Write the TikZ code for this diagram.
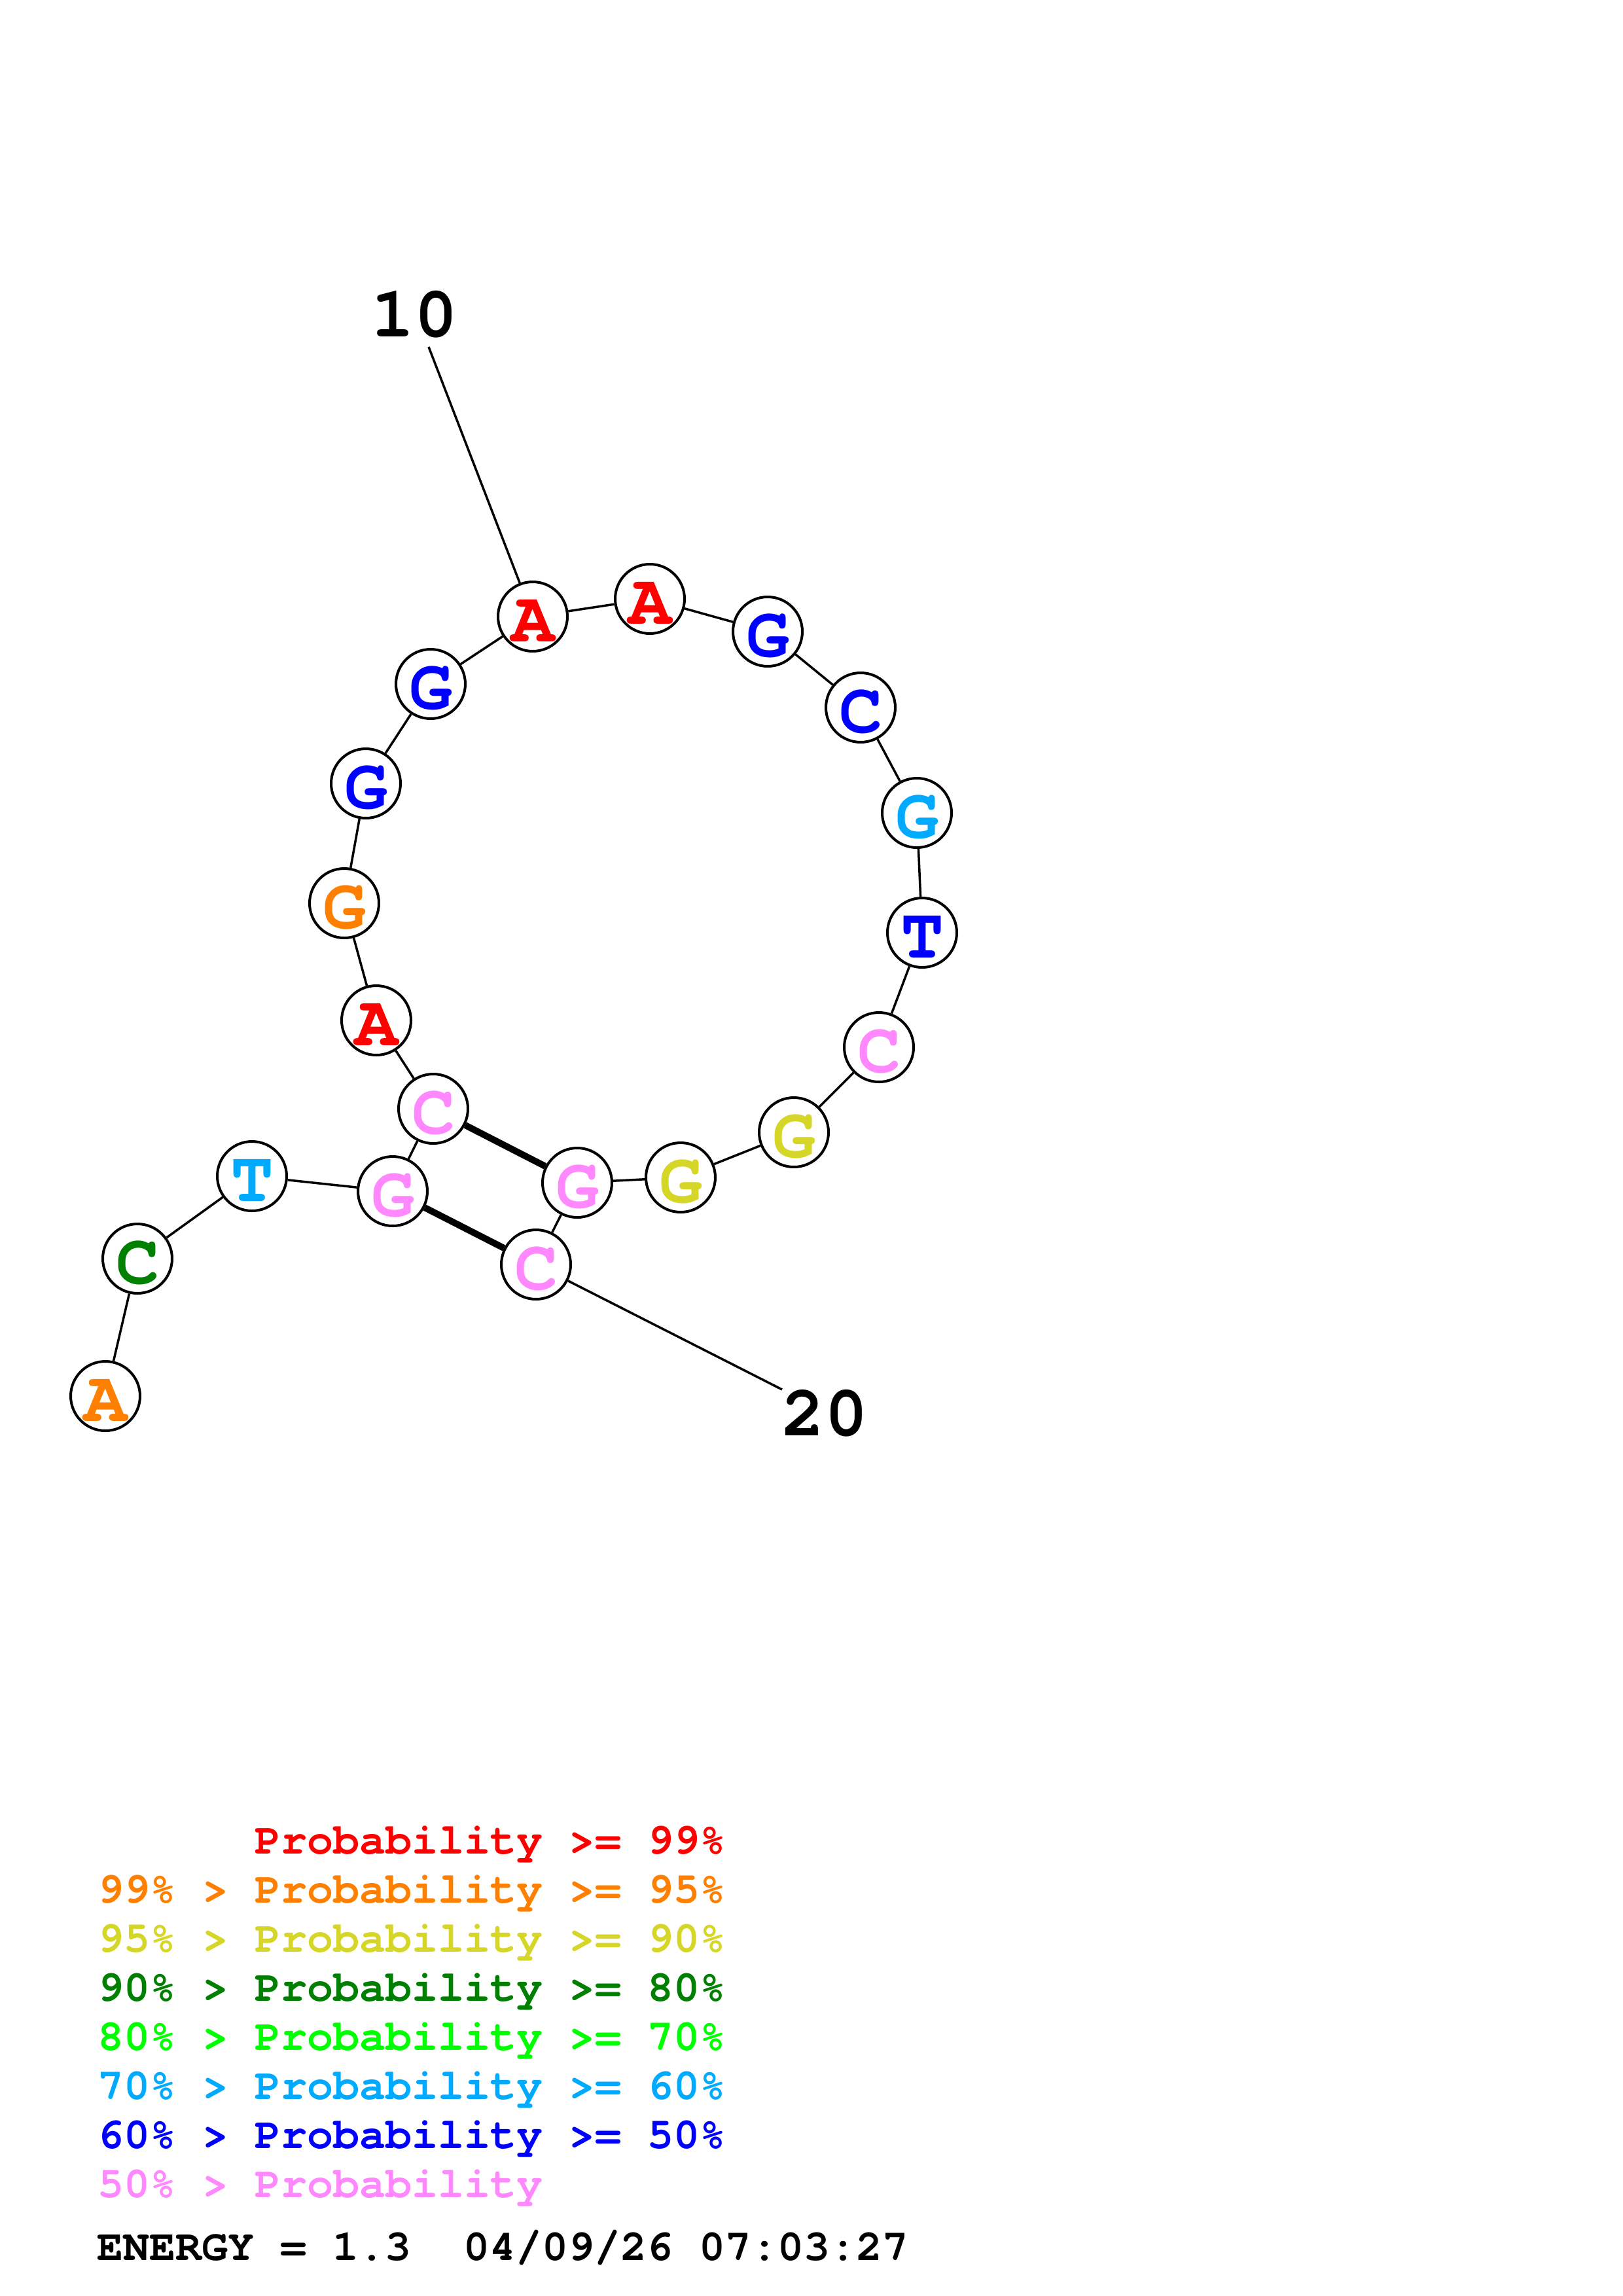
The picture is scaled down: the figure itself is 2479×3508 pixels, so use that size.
\documentclass[tikz,border=0pt]{standalone}
\usepackage{fontspec}
\newfontfamily\cour{TeX Gyre Cursor}
\definecolor{pr}{RGB}{255,0,0}
\definecolor{po}{RGB}{255,128,0}
\definecolor{py}{RGB}{214,214,41}
\definecolor{pdg}{RGB}{0,128,0}
\definecolor{pg}{RGB}{0,255,0}
\definecolor{plb}{RGB}{0,170,255}
\definecolor{pb}{RGB}{0,0,255}
\definecolor{pp}{RGB}{255,136,255}
\newcommand\nt[5]{\node[nuc] (#1) at (#2,#3) {}; \node[base,text=#5] at ([yshift=-6pt]#1) {#4};}
\begin{document}
\begin{tikzpicture}[x=1pt,y=-1pt,
  nuc/.style={circle, draw=black, fill=white, line width=4pt, minimum size=106pt, inner sep=0pt},
  base/.style={font=\cour\bfseries\fontsize{110}{120}\selectfont, inner sep=0pt},
  bb/.style={line width=3.5pt, black},
  pairline/.style={line width=10pt, black},
  leg/.style={font=\cour\bfseries\fontsize{66.7}{70}\selectfont, inner sep=0pt, anchor=base west}]
\useasboundingbox (0,0) rectangle (2479,3508);
\nt{n1}{161}{2133}{A}{po}
\nt{n2}{210}{1923}{C}{pdg}
\nt{n3}{385}{1797}{T}{plb}
\nt{n4}{600}{1820}{G}{pp}
\nt{n5}{662}{1694}{C}{pp}
\nt{n6}{575}{1559}{A}{pr}
\nt{n7}{526}{1380}{G}{po}
\nt{n8}{559}{1197}{G}{pb}
\nt{n9}{658}{1045}{G}{pb}
\nt{n10}{814}{942}{A}{pr}
\nt{n11}{993}{915}{A}{pr}
\nt{n12}{1173}{965}{G}{pb}
\nt{n13}{1315}{1081}{C}{pb}
\nt{n14}{1401}{1242}{G}{plb}
\nt{n15}{1409}{1425}{T}{pb}
\nt{n16}{1343}{1600}{C}{pp}
\nt{n17}{1213}{1730}{G}{py}
\nt{n18}{1040}{1799}{G}{py}
\nt{n19}{882}{1807}{G}{pp}
\nt{n20}{819}{1932}{C}{pp}
\foreach \a/\b in {n1/n2,n2/n3,n3/n4,n4/n5,n5/n6,n6/n7,n7/n8,n8/n9,n9/n10,n10/n11,n11/n12,n12/n13,n13/n14,n14/n15,n15/n16,n16/n17,n17/n18,n18/n19,n19/n20}
  \draw[bb] (\a) -- (\b);
\draw[pairline] (n5) -- (n19);
\draw[pairline] (n4) -- (n20);
\node[base] (lab10) at (633,480) {10};
\node[base] (lab20) at (1260,2159) {20};
\coordinate (e10) at (655,530);
\coordinate (e20) at (1195,2123);
\draw[bb] (n10) -- (e10);
\draw[bb] (n20) -- (e20);
\node[leg,text=pr] (l1) at (149,2832) {\hphantom{99\%\ >\ }Probability\ >=\ 99\%};
\node[leg,text=po] (l2) at (149,2907) {99\%\ >\ Probability\ >=\ 95\%};
\node[leg,text=py] (l3) at (149,2982) {95\%\ >\ Probability\ >=\ 90\%};
\node[leg,text=pdg] (l4) at (149,3057) {90\%\ >\ Probability\ >=\ 80\%};
\node[leg,text=pg] (l5) at (149,3132) {80\%\ >\ Probability\ >=\ 70\%};
\node[leg,text=plb] (l6) at (149,3207) {70\%\ >\ Probability\ >=\ 60\%};
\node[leg,text=pb] (l7) at (149,3282) {60\%\ >\ Probability\ >=\ 50\%};
\node[leg,text=pp] (l8) at (149,3357) {50\%\ >\ Probability};
\node[leg,text=black] (en) at (148,3453) {ENERGY\ =\ 1.3\ \ 04/09/26\ 07:03:27};
\end{tikzpicture}
\end{document}
